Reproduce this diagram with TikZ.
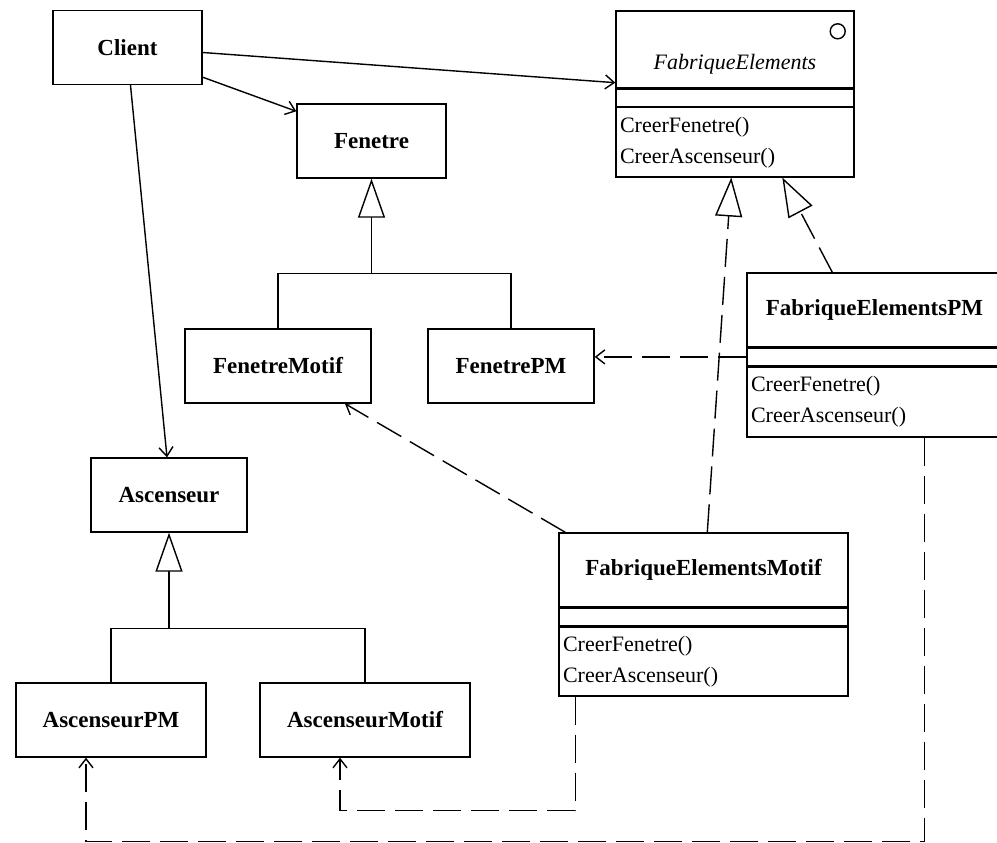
\documentclass[tikz,border=0pt]{standalone}
\usepackage{fontspec}
\setmainfont{Liberation Serif}
\usetikzlibrary{arrows.meta, positioning}

\begin{document}
\begin{tikzpicture}[
		x=1pt, y=-1pt,
		every node/.style={font=\fontsize{22}{31}\selectfont},
		classbox/.style={draw, line width=1.4pt, minimum height=74pt, inner sep=0pt, font=\fontsize{23}{31}\selectfont\bfseries},
		attrpart/.style={draw, line width=1.4pt, minimum height=17pt, inner sep=0pt},
		opspart/.style={draw, line width=1.4pt, minimum height=69pt, inner xsep=4pt, inner ysep=0pt, align=left},
		assoc/.style={line width=1.4pt, -{Straight Barb[length=9pt, width=14pt]}},
		inherit/.style={line width=1.4pt, -{Triangle[open, length=39pt, width=27pt, fill=white]}},
		realize/.style={inherit, dash pattern=on 28pt off 10pt},
		depend/.style={assoc, dash pattern=on 28pt off 10pt}
		]
		\useasboundingbox (0,0) rectangle (997,843);
		
		% Client and products
		\node[classbox, minimum width=149pt] (client) at (127.5,47.5) {Client};
		\node[classbox, minimum width=149pt] (fen) at (371.5,141) {Fenetre};
		\node[classbox, minimum width=186pt] (fm) at (278,366) {FenetreMotif};
		\node[classbox, minimum width=166pt] (fpm) at (511,366) {FenetrePM};
		\node[classbox, minimum width=156pt] (asc) at (169,495) {Ascenseur};
		\node[classbox, minimum width=190pt] (apm) at (111,720) {AscenseurPM};
		\node[classbox, minimum width=210pt] (am) at (365,720) {AscenseurMotif};
		
		% Abstract factory
		\node[classbox, font=\fontsize{22}{31}\selectfont\itshape, minimum width=238pt, minimum height=77pt, text height=41pt, text depth=0pt] (fe) at (735,49.5) {FabriqueElements};
		\node[attrpart, minimum width=238pt, below=0pt of fe] (featt) {};
		\node[opspart, text width=230pt, below=0pt of featt] (feops) {CreerFenetre()\\CreerAscenseur()};
		\draw[line width=1.4pt] ([xshift=-17pt, yshift=-21pt]fe.north east) circle[radius=7.5pt];
		
		% Concrete factories
		\node[classbox, minimum width=255pt] (fepm) at (874.5,310) {FabriqueElementsPM};
		\node[attrpart, minimum width=255pt, below=0pt of fepm] (fepmatt) {};
		\node[opspart, text width=247pt, minimum height=70pt, below=0pt of fepmatt] (fepmops) {CreerFenetre()\\CreerAscenseur()};
		
		\node[classbox, minimum width=289pt] (fem) at (703.5,570) {FabriqueElementsMotif};
		\node[attrpart, minimum width=289pt, below=0pt of fem] (fematt) {};
		\node[opspart, text width=281pt, below=0pt of fematt] (femops) {CreerFenetre()\\CreerAscenseur()};
		
		% Associations
		\draw[assoc] ([yshift=-5pt]client.east) -- ([yshift=6pt]fe.south west);
		\draw[assoc] ([yshift=8pt]client.south east) -- ([yshift=-8pt]fen.north west);
		\draw[assoc] ([xshift=3pt]client.south) -- ([xshift=-2pt]asc.north);
		
		% Inheritance
		\coordinate (fenjoin) at ([yshift=-95pt]fen.south);
		\draw[inherit] (fenjoin) -- (fen.south);
		\draw[line width=1.4pt] (fm.north) |- (fenjoin) -| (fpm.north);
		\coordinate (ascjoin) at ([yshift=-96pt]asc.south);
		\draw[inherit] (ascjoin) -- (asc.south);
		\draw[line width=1.4pt] (apm.north) |- (ascjoin) -| (am.north);
		
		% Realizations
		\draw[realize] ([xshift=86pt]fepm.north west) -- ([xshift=167pt]feops.south west);
		\draw[realize] ([xshift=149pt]fem.north west) -- ([xshift=116pt]feops.south west);
		
		% Dependencies
		\draw[depend] (fepmatt.west) -- (fepmatt.west -| fpm.east);
		\draw[depend] ([xshift=7pt]fem.north west) -- ([xshift=67pt]fm.south);
		\draw[depend] ([xshift=17pt]femops.south west) -- ++(0,114) -| ([xshift=-25pt]am.south);
		\draw[depend] ([xshift=178pt]fepmops.south west) -- ++(0,404) -| ([xshift=-25pt]apm.south);
		
	\end{tikzpicture}
\end{document}
